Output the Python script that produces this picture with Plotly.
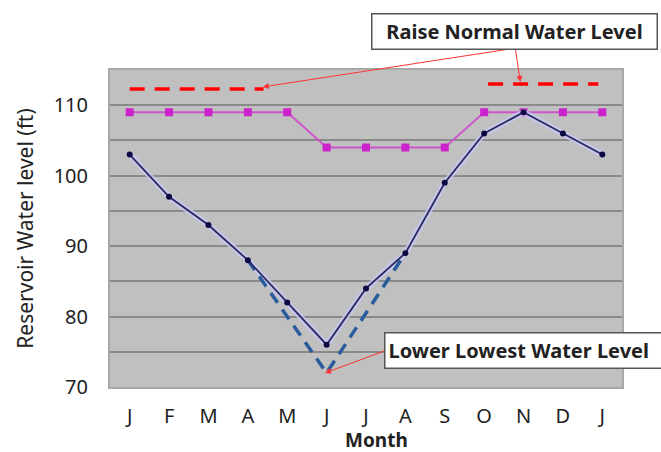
import plotly.graph_objects as go

months = ["J", "F", "M", "A", "M", "J", "J", "A", "S", "O", "N", "D", "J"]
month_pos = list(range(13))
actual_level = [103, 97, 93, 88, 82, 76, 84, 89, 99, 106, 109, 106, 103]
normal_level = [109, 109, 109, 109, 109, 104, 104, 104, 104, 109, 109, 109, 109]
lowered_x = [3, 5, 7]
lowered_y = [88, 72, 89]
raise_left_x = [0, 3.4]
raise_left_y = [112.3, 112.3]
raise_right_x = [9.1, 11.9]
raise_right_y = [113, 113]
y_ticks = [70, 75, 80, 85, 90, 95, 100, 105, 110, 115]
y_ticktext = ["70", "", "80", "", "90", "", "100", "", "110", ""]

FONT = "Noto Sans"

fig = go.Figure()

fig.add_trace(go.Scatter(x=month_pos, y=normal_level, mode="lines+markers",
                         line=dict(color="#CC55CC", width=2),
                         marker=dict(symbol="square", size=8, color="#CC22CC"),
                         showlegend=False, hoverinfo="skip"))
fig.add_trace(go.Scatter(x=month_pos, y=actual_level, mode="lines",
                         line=dict(color="rgba(200,200,245,0.8)", width=6),
                         showlegend=False, hoverinfo="skip"))
fig.add_trace(go.Scatter(x=lowered_x, y=lowered_y, mode="lines",
                         line=dict(color="#2A5B9C", width=3.5, dash="12px,8px"),
                         showlegend=False, hoverinfo="skip"))
fig.add_trace(go.Scatter(x=month_pos, y=actual_level, mode="lines+markers",
                         line=dict(color="#2A2A5E", width=1.8),
                         marker=dict(size=6, color="#0A0A40"),
                         showlegend=False, hoverinfo="skip"))
fig.add_trace(go.Scatter(x=raise_left_x, y=raise_left_y, mode="lines",
                         line=dict(color="#FF0000", width=3.5, dash="15px,10px"),
                         showlegend=False, hoverinfo="skip"))
fig.add_trace(go.Scatter(x=raise_right_x, y=raise_right_y, mode="lines",
                         line=dict(color="#FF0000", width=3.5, dash="15px,10px"),
                         showlegend=False, hoverinfo="skip"))

fig.update_layout(
    width=661, height=452,
    margin=dict(l=110, r=39, t=70, b=65),
    paper_bgcolor="white",
    plot_bgcolor="#C0C0C0",
    font=dict(family=FONT, size=20, color="#222222"),
    xaxis=dict(range=[-0.5, 12.5], tickmode="array", tickvals=month_pos, ticktext=months,
               showgrid=False, zeroline=False, showline=True, linecolor="#A8A8A8", linewidth=2,
               mirror=True, ticks="", ticklabelstandoff=10, automargin=False,
               tickfont=dict(size=20, family=FONT, color="#222")),
    yaxis=dict(range=[70, 115], tickmode="array", tickvals=y_ticks, ticktext=y_ticktext,
               showgrid=True, gridcolor="#8A8A8A", gridwidth=2, zeroline=False,
               showline=True, linecolor="#A8A8A8", linewidth=2, mirror=True, ticks="",
               ticklabelstandoff=16, automargin=False,
               tickfont=dict(size=20, family=FONT, color="#222"),
               title=dict(text="Reservoir Water level (ft)", font=dict(size=21, family=FONT, color="#222"), standoff=14)),
)

# x-axis title
fig.add_annotation(x=0.52, y=-0.167, xref="paper", yref="paper", xanchor="center", yanchor="middle",
                   text="<b>Month</b>", showarrow=False,
                   font=dict(size=19, family=FONT, color="#222"))

# arrows
fig.add_annotation(x=3.38, y=112.6, ax=9.79, ay=118.1, xref="x", yref="y", axref="x", ayref="y",
                   text="", showarrow=True, arrowhead=2, arrowsize=1.2, arrowwidth=1, arrowcolor="#FF3333")
fig.add_annotation(x=9.92, y=113.3, ax=9.79, ay=118.1, xref="x", yref="y", axref="x", ayref="y",
                   text="", showarrow=True, arrowhead=2, arrowsize=1.2, arrowwidth=1, arrowcolor="#FF3333")
fig.add_annotation(x=4.96, y=72.0, ax=6.53, ay=75.24, xref="x", yref="y", axref="x", ayref="y",
                   text="", showarrow=True, arrowhead=2, arrowsize=1.2, arrowwidth=1, arrowcolor="#FF3333")

# boxes
fig.add_annotation(x=0.791, y=1.12, xref="paper", yref="paper", xanchor="center", yanchor="middle",
                   text="<b>Raise Normal Water Level</b>",
                   showarrow=False, font=dict(size=20, family=FONT, color="#222"),
                   bgcolor="white", bordercolor="#555555", borderwidth=1.5, borderpad=3,
                   width=278, height=28)
fig.add_annotation(x=6.46, y=75.24, xref="x", yref="y", xanchor="left", yanchor="middle", align="left",
                   text="<b>Lower Lowest Water Level</b>",
                   showarrow=False, font=dict(size=20, family=FONT, color="#222"),
                   bgcolor="white", bordercolor="#555555", borderwidth=1.5, borderpad=3,
                   width=290, height=28)

fig.write_html("out.html")
